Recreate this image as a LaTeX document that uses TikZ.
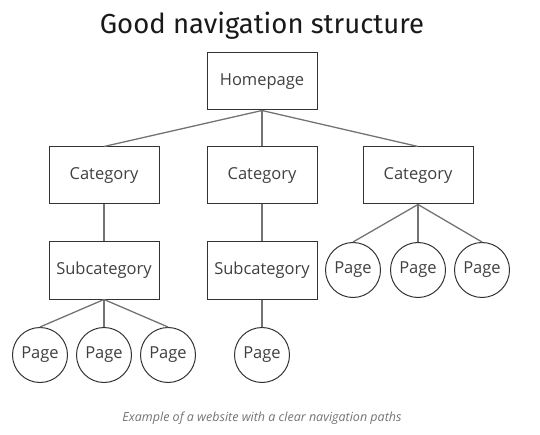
\documentclass[tikz,border=0pt]{standalone}
\usepackage{fontspec}
\setmainfont{Open Sans}
\newfontfamily\titlefont{Fira Sans}
\begin{document}
\begin{tikzpicture}[x=1pt,y=-1pt,
  box/.style={draw=black!80,line width=1pt,minimum width=110pt,minimum height=57pt,inner sep=0pt,text=black!75,font=\fontsize{16.5}{19}\selectfont},
  pagec/.style={circle,draw=black!80,line width=1pt,minimum size=55pt,inner sep=0pt,text=black!75,font=\fontsize{16.5}{19}\selectfont},
  link/.style={draw=black!55,line width=1.3pt}]
\useasboundingbox (0,0) rectangle (540,435);
\node[font=\titlefont\fontsize{27.5}{32}\selectfont,text=black!90] (title) at (262,26) {Good navigation structure};
\node[box] (home) at (262,81.5) {Homepage};
\node[box] (c1) at (104,175.5) {Category};
\node[box] (c2) at (262,175.5) {Category};
\node[box] (c3) at (418,175.5) {Category};
\node[box] (s1) at (104,270.5) {Subcategory};
\node[box] (s2) at (262,270.5) {Subcategory};
\node[pagec] (p31) at (353,270) {Page};
\node[pagec] (p32) at (418,270) {Page};
\node[pagec] (p33) at (482,270) {Page};
\node[pagec] (p11) at (40,355) {Page};
\node[pagec] (p12) at (104,355) {Page};
\node[pagec] (p13) at (168,355) {Page};
\node[pagec] (p21) at (262,355) {Page};
\node[font=\itshape\fontsize{12.5}{15}\selectfont,text=black!55] (cap) at (262,418) {Example of a website with a clear navigation paths};
\foreach \c in {c1,c2,c3} \draw[link] (home.south) -- (\c.north);
\draw[link] (c1.south) -- (s1.north);
\draw[link] (c2.south) -- (s2.north);
\foreach \p in {p31,p32,p33} \draw[link] (c3.south) -- (\p.north);
\foreach \p in {p11,p12,p13} \draw[link] (s1.south) -- (\p.north);
\draw[link] (s2.south) -- (p21.north);
\end{tikzpicture}
\end{document}
